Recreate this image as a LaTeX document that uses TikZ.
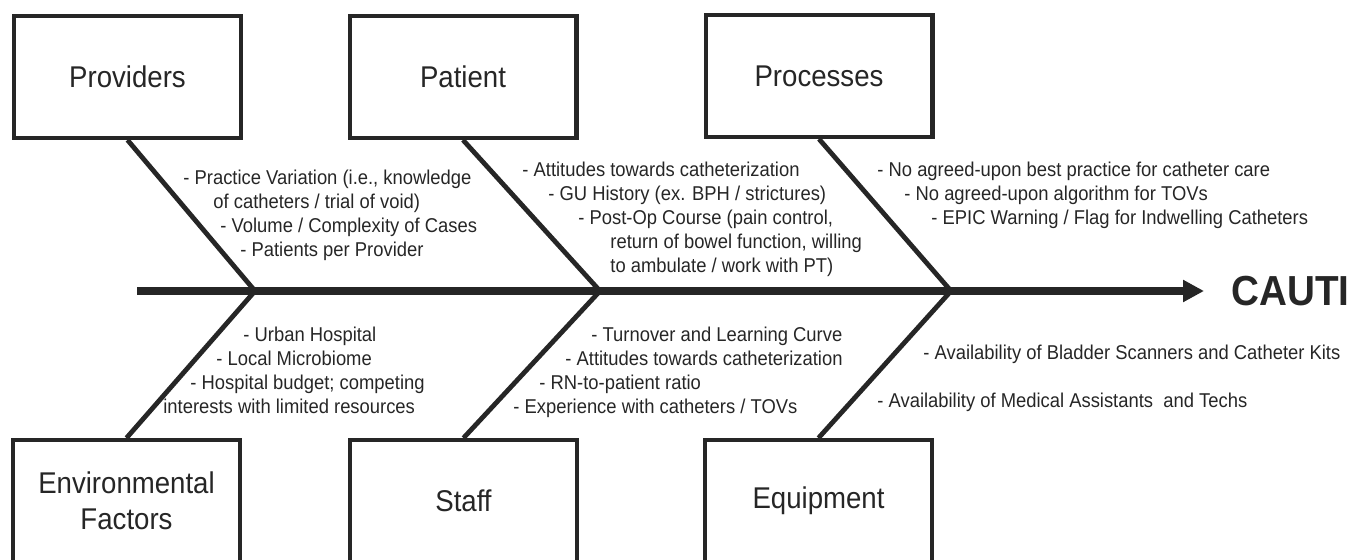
\documentclass[tikz,border=0pt]{standalone}
\usepackage{fontspec}
\setmainfont{Liberation Sans}[FakeStretch=0.92]
\usepackage{xcolor}
\usetikzlibrary{arrows.meta, positioning}

\definecolor{ink}{HTML}{262626}

\begin{document}
\begin{tikzpicture}[
  x = 0.5pt, y = -0.5pt,
  cause/.style = {
    rectangle, draw=ink, line width=2.2pt, fill=white,
    minimum width=113.3pt, minimum height=60.8pt,
    align=center, text=ink,
    font=\fontsize{15}{18}\selectfont
  },
  bone/.style  = {draw=ink, line width=2.4pt},
  spine/.style = {-{Triangle[length=10.5pt, width=10.5pt]}, draw=ink, line width=3.8pt},
  note/.style  = {
    anchor=base west, align=left, inner sep=0pt, text=ink,
    font=\fontsize{10}{12}\selectfont
  },
  effect/.style = {anchor=base west, inner sep=0pt, text=ink,
    font=\fontsize{21}{24}\selectfont\bfseries}
]
\clip (0,0) rectangle (1354,560);

% Top row of causes
\node[cause] (prov) at (127.5,77) {Providers};
\node[cause] (pat)  at (463,77)   {Patient};
\node[cause] (proc) at (819,76)   {Processes};

% Bottom row of causes (cut off at the lower edge)
\node[cause] (env)   at (126.5,501) {Environmental\\Factors};
\node[cause] (staff) at (463.5,501) {\raisebox{-1pt}{Staff}};
\node[cause] (equip) at (818.5,501) {\raisebox{-1.5pt}{Equipment}};

% Spine and effect
\coordinate (tail) at (137,291);
\coordinate (head) at (1204,291);
\coordinate (j1) at (255,291);
\coordinate (j2) at (600,291);
\coordinate (j3) at (951,291);
\node[effect] (cauti) at (1231,306) {CAUTI};
\draw[spine] (tail) -- (head);

% Bones
\draw[bone] (prov.south)  -- (j1);
\draw[bone] (pat.south)   -- (j2);
\draw[bone] (proc.south)  -- (j3);
\draw[bone] (env.north)   -- (j1);
\draw[bone] (staff.north) -- (j2);
\draw[bone] (equip.north) -- (j3);

% Contributing factors (placed by the baseline of the last line)
\node[note] (provtxt) at (183,257) {%
  - Practice Variation (i.e., knowledge\\
  \hspace*{15pt}of catheters / trial of void)\\
  \hspace*{18.5pt}- Volume / Complexity of Cases\\
  \hspace*{28.5pt}- Patients per Provider};
\node[note] (pattxt) at (522,273) {%
  - Attitudes towards catheterization\\
  \hspace*{13pt}- GU History (ex. BPH / strictures)\\
  \hspace*{28pt}- Post-Op Course (pain control,\\
  \hspace*{44pt}return of bowel function, willing\\
  \hspace*{44pt}to ambulate / work with PT)};
\node[note] (proctxt) at (877,225) {%
  - No agreed-upon best practice for catheter care\\
  \hspace*{13.5pt}- No agreed-upon algorithm for TOVs\\
  \hspace*{27pt}- EPIC Warning / Flag for Indwelling Catheters};
\node[note] (envtxt) at (163,414) {%
  \hspace*{40pt}- Urban Hospital\\
  \hspace*{26.5pt}- Local Microbiome\\
  \hspace*{13.5pt}- Hospital budget; competing\\
  interests with limited resources};
\node[note] (stafftxt) at (513,414) {%
  \hspace*{39pt}- Turnover and Learning Curve\\
  \hspace*{26pt}- Attitudes towards catheterization\\
  \hspace*{13pt}- RN-to-patient ratio\\
  - Experience with catheters / TOVs};
\node[note] (equiptxt) at (923,360) {- Availability of Bladder Scanners and Catheter Kits};
\node[note] (techtxt)  at (877,408) {- Availability of Medical Assistants\ \ and Techs};
\end{tikzpicture}
\end{document}
